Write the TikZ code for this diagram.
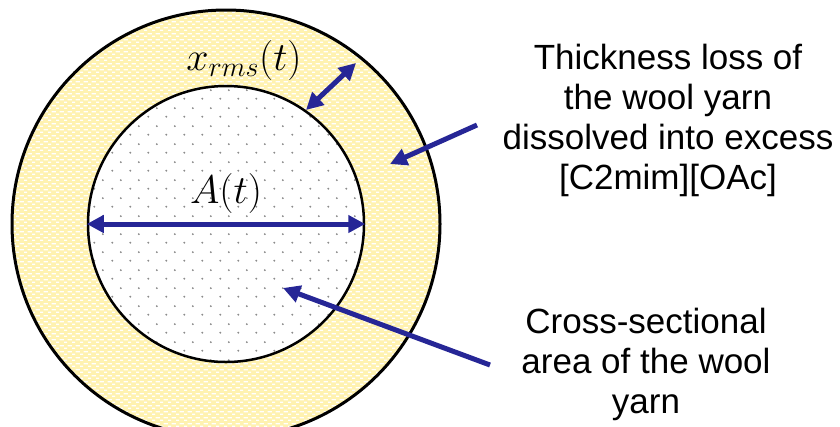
\RequirePackage{fix-cm}
\documentclass[tikz,border=0pt]{standalone}
\usepackage{fontspec}
\newfontfamily\arial{Liberation Sans}
\usetikzlibrary{arrows.meta,patterns.meta}
\definecolor{yfill}{RGB}{255,242,176}
\definecolor{myblue}{RGB}{38,38,150}
\definecolor{dotgray}{RGB}{140,140,140}
\tikzdeclarepattern{
  name=ydash, type=colored,
  bottom left={(0pt,0pt)}, top right={(8pt,6pt)}, tile size={(8pt,6pt)},
  code={
    \fill[white] (0pt,0pt) rectangle (3.6pt,1.5pt);
    \fill[white] (4pt,3pt) rectangle (7.6pt,4.5pt);
  }
}
\tikzdeclarepattern{
  name=gdots, type=colored,
  bottom left={(0pt,0pt)}, top right={(18pt,18pt)}, tile size={(18pt,18pt)},
  code={
    \fill[dotgray] (4.5pt,4.5pt) circle (1.1pt);
    \fill[dotgray] (13.5pt,13.5pt) circle (1.1pt);
  }
}
\tikzset{
  blu/.style={draw=myblue, line width=5pt, -{Triangle[length=17pt,width=17pt]}},
  blu2/.style={draw=myblue, line width=5pt, {Triangle[length=17pt,width=17pt]}-{Triangle[length=17pt,width=17pt]}},
  lbl/.style={font=\arial\fontsize{35}{40}\selectfont, align=center, inner sep=0pt},
  mth/.style={font=\fontsize{40}{44}\selectfont, inner sep=0pt}
}
\begin{document}
\begin{tikzpicture}[x=1pt,y=-1pt]
\useasboundingbox (0,0) rectangle (840,426);
\begin{scope}
\clip (0,0) rectangle (840,426);
\fill[yfill] (226,224) circle (214);
\fill[pattern=ydash] (226,224) circle (214);
\draw[line width=3pt] (226,224) circle (214);
\fill[white] (226,224) circle (138);
\fill[pattern=gdots] (226,224) circle (138);
\node[circle, draw, line width=2.5pt, minimum size=276pt, inner sep=0pt] (inner) at (226,224) {};
\end{scope}
\draw[blu2] (inner.west) -- (inner.east);
\node[mth] (at) at (226,193) {$A(t)$};
\node[mth] (xr) at (244,60) {$x_{rms}(t)$};
\coordinate (ri) at (306,110);
\coordinate (ro) at (356,63);
\draw[blu2] (ri) -- (ro);
\node[lbl] (top) at (668,120) {Thickness loss of\\the wool yarn\\dissolved into excess\\{[C2mim][OAc]}};
\node[lbl] (bot) at (646,364) {Cross-sectional\\area of the wool\\yarn};
\coordinate (s1) at (477,125);
\coordinate (e1) at (390,164);
\draw[blu] (s1) -- (e1);
\coordinate (s2) at (490,365);
\coordinate (e2) at (283,288);
\draw[blu] (s2) -- (e2);
\end{tikzpicture}
\end{document}
